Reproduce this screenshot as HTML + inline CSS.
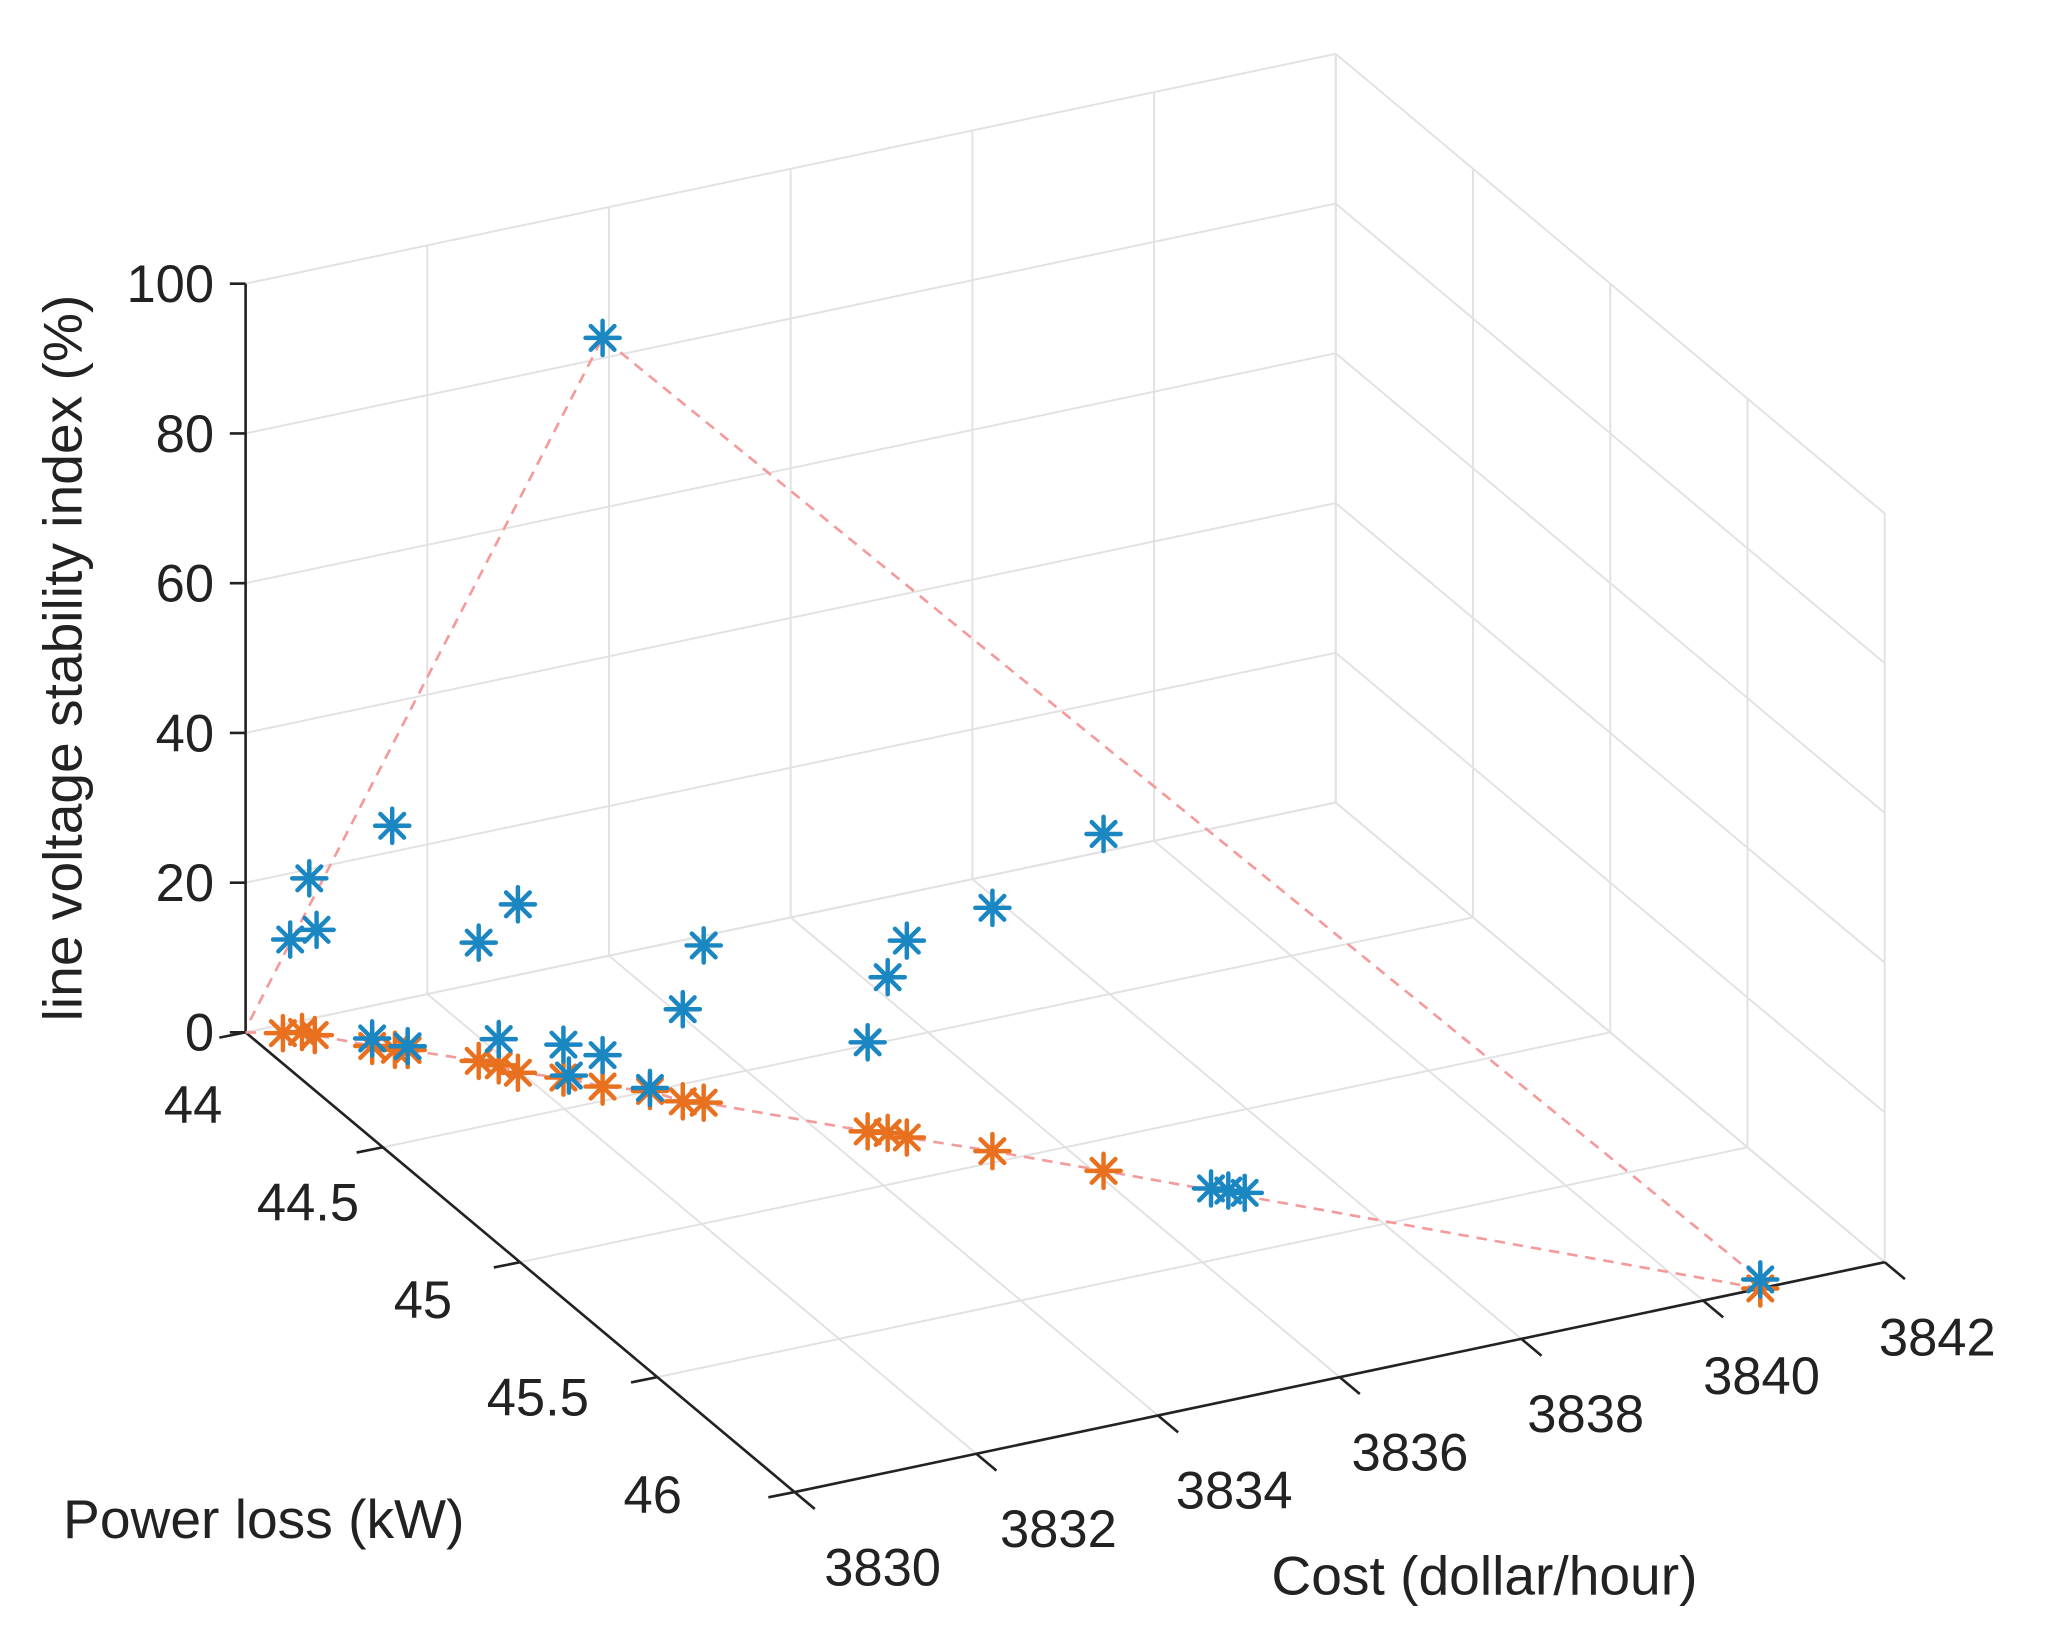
<!DOCTYPE html>
<html><head><meta charset="utf-8"><style>
html,body{margin:0;padding:0;background:#fff;}
svg{display:block;font-family:"Liberation Sans",sans-serif;}
</style></head><body>
<svg id="chart" width="2066" height="1651" viewBox="0 4 1573 1257" preserveAspectRatio="none" xmlns="http://www.w3.org/2000/svg">
<rect x="0" y="0" width="1600" height="1300" fill="#fff"/>
<g id="grid"></g>
<g id="axes"></g>
<g id="lines"></g>
<g id="marks"></g>
<text x="0" y="0" transform="translate(62,505) rotate(-90)" text-anchor="middle" font-size="42" fill="#222">line voltage stability index (%)</text>
<text x="48" y="1175" font-size="42" fill="#222">Power loss (kW)</text>
<text x="968" y="1218" font-size="42" fill="#222">Cost (dollar/hour)</text>
</svg>
<script>
const costTicks=[3830,3832,3834,3836,3838,3840,3842];
const lossTicks=[44,44.5,45,45.5,46];
const lossTickLabels=["44","44.5","45","45.5","46"];
const zTicks=[0,20,40,60,80,100];
const blueCost=[3830.40,3830.55,3830.60,3831.10,3830.97,3831.24,3831.75,3831.97,3831.88,3832.32,3832.35,3832.57,3832.94,3833.12,3833.29,3834.43,3834.59,3834.71,3835.32,3836.09,3836.85,3836.98,3837.10,3840.63,3832.57];
const blueLoss=[44.03,44.05,44.06,44.17,44.14,44.18,44.27,44.34,44.30,44.39,44.40,44.45,44.50,44.56,44.58,44.80,44.82,44.85,44.96,45.11,45.25,45.27,45.29,46.0,44.45];
const blueLvsi=[12.3,20.7,14,30,1,0.5,15.8,22.5,3.5,4.4,0.5,4.2,0.4,12.3,21,11.9,20.8,26.3,32.5,45,0,0,0,1.2,100];
const orangeCost=[3830.32,3830.50,3830.58,3830.97,3831.13,3831.24,3831.75,3831.88,3831.97,3832.32,3832.57,3832.94,3833.12,3833.29,3834.43,3834.59,3834.71,3835.32,3836.09,3840.63];
const orangeLoss=[44.03,44.04,44.06,44.14,44.17,44.18,44.27,44.30,44.34,44.39,44.45,44.50,44.56,44.58,44.80,44.82,44.85,44.96,45.11,46.0];
const triCost=[3830.05,3832.57,3840.63];
const triLoss=[44.0,44.45,46.0];
const triLvsi=[1.5,100,1.2];

const NS="http://www.w3.org/2000/svg";
const L=[187,790], DC=[830,-175], DP=[418,350], ZH=570;
function P(c,p,z){const a=(c-3830)/12,b=(p-44)/2;return [L[0]+a*DC[0]+b*DP[0], L[1]+a*DC[1]+b*DP[1]-z/100*ZH];}
function el(parent,tag,attrs){const e=document.createElementNS(NS,tag);for(const k in attrs)e.setAttribute(k,attrs[k]);parent.appendChild(e);return e;}
function line(g,a,b,st,w,dash){const e=el(g,'line',{x1:a[0],y1:a[1],x2:b[0],y2:b[1],stroke:st,'stroke-width':w});if(dash)e.setAttribute('stroke-dasharray',dash);return e;}
function label(g,x,y,txt,anchor){const e=el(g,'text',{x:x,y:y,'text-anchor':anchor,'font-size':40,fill:'#222'});e.textContent=txt;return e;}
const grid=document.getElementById('grid'),axes=document.getElementById('axes'),lines=document.getElementById('lines'),marks=document.getElementById('marks');
const gc='#e2e2e2';
costTicks.forEach(c=>{let e=line(grid,P(c,44,0),P(c,44,100),gc,1.5);


e=line(grid,P(c,44,0),P(c,46,0),gc,1.5);

});
lossTicks.forEach(p=>{let e=line(grid,P(3842,p,0),P(3842,p,100),gc,1.5);


e=line(grid,P(3830,p,0),P(3842,p,0),gc,1.5);

});
zTicks.forEach(z=>{let e=line(grid,P(3830,44,z),P(3842,44,z),gc,1.5);


e=line(grid,P(3842,44,z),P(3842,46,z),gc,1.5);

});
let ax=line(axes,P(3830,44,0),P(3830,44,100),'#222',2);


ax=line(axes,P(3830,44,0),P(3830,46,0),'#222',2);


ax=line(axes,P(3830,46,0),P(3842,46,0),'#222',2);


zTicks.forEach(z=>{const a=P(3830,44,z);const t=line(axes,a,[a[0]-12,a[1]],'#222',2);


const tx=label(axes,a[0]-24,a[1]+14,String(z),'end');

});
lossTicks.forEach((p,i)=>{const a=P(3830,p,0);const t=(p-44)/2;const d=[-20,4];
const tk=line(axes,a,[a[0]+d[0],a[1]+d[1]],'#222',2);


const tx=label(axes,a[0]-40-68*t,a[1]+55-53*t+14,lossTickLabels[i],'middle');

});
costTicks.forEach(c=>{const a=P(c,46,0);const t=(c-3830)/12;const d=[418/545*20,350/545*20];
const tk=line(axes,a,[a[0]+d[0],a[1]+d[1]],'#222',2);


const tx=label(axes,a[0]+67-27*t,a[1]+57+14,String(c),'middle');

});
const red='#f59a9a';
let pts=[P(3830,44,0)].concat(orangeCost.map((c,i)=>P(c,orangeLoss[i],0)));
let pl=el(lines,'polyline',{points:pts.map(q=>q.join(',')).join(' '),fill:'none',stroke:red,'stroke-width':2,'stroke-dasharray':'8,6'});


pts=triCost.map((c,i)=>P(c,triLoss[i],triLvsi[i]));
pl=el(lines,'polyline',{points:pts.map(q=>q.join(',')).join(' '),fill:'none',stroke:red,'stroke-width':2,'stroke-dasharray':'8,6'});


function star(q,col,name){const g=el(marks,'g',{stroke:col,'stroke-width':3.4,'stroke-linecap':'round'});


const r=13,s=9;line(g,[q[0]-r,q[1]],[q[0]+r,q[1]],col,3.4);line(g,[q[0],q[1]-r],[q[0],q[1]+r],col,3.4);
line(g,[q[0]-s,q[1]-s],[q[0]+s,q[1]+s],col,3.4);line(g,[q[0]-s,q[1]+s],[q[0]+s,q[1]-s],col,3.4);}
orangeCost.forEach((c,i)=>star(P(c,orangeLoss[i],0),'#e8701e','orange-point'));
blueCost.forEach((c,i)=>star(P(c,blueLoss[i],blueLvsi[i]),'#1a86c2','blue-point'));
</script>
</body></html>
